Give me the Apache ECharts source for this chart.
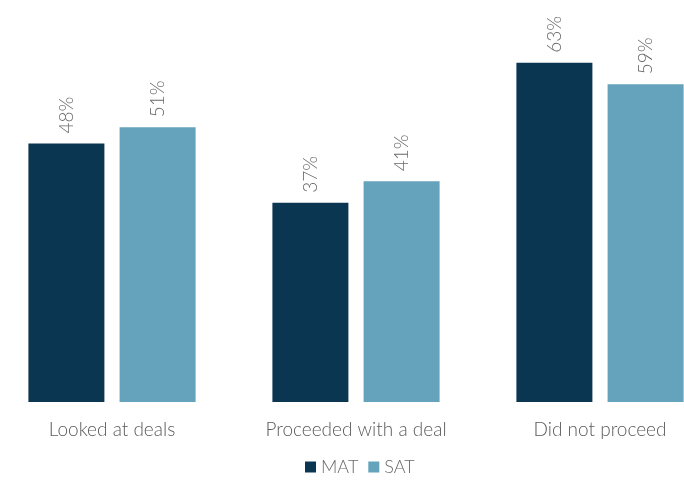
<!DOCTYPE html>
<html><head><meta charset="utf-8">
<script src="https://cdn.jsdelivr.net/npm/echarts@6/dist/echarts.min.js"></script>
<style>html,body{margin:0;padding:0;background:#fff}#c{width:684px;height:481px}</style>
</head><body><div id="c"></div>
<script>
const categories = ['Looked at deals', 'Proceeded with a deal', 'Did not proceed'];
const matValues = [48, 37, 63];
const satValues = [51, 41, 59];
const seriesNames = ['MAT', 'SAT'];

const chart = echarts.init(document.getElementById('c'));
const labelStyle = {
  show: true, position: 'top', rotate: 90, align: 'left', verticalAlign: 'middle',
  distance: 10, formatter: '{c}%', color: '#6a6a6a', fontSize: 19, fontFamily: 'Lato', fontWeight: 300
};
chart.setOption({
  animation: false,
  grid: { left: -10, width: 732, top: 25, bottom: 79, containLabel: false, outerBoundsMode: 'none' },
  legend: {
    data: seriesNames, bottom: 0, left: 300, icon: 'rect', itemWidth: 11, itemHeight: 11, itemGap: 10,
    textStyle: { color: '#6a6a6a', fontSize: 18, fontFamily: 'Lato', fontWeight: 300 }
  },
  xAxis: {
    type: 'category', data: categories,
    axisLine: { show: false }, axisTick: { show: false },
    axisLabel: { interval: 0, color: '#5a5a5a', fontSize: 19, fontFamily: 'Lato', fontWeight: 300, margin: 18 }
  },
  yAxis: { type: 'value', min: 0, max: 70, show: false, splitLine: { show: false } },
  series: [
    { name: 'MAT', type: 'bar', data: matValues, barWidth: 76, barGap: '20%', itemStyle: { color: '#0b3652' }, label: labelStyle },
    { name: 'SAT', type: 'bar', data: satValues, barWidth: 76, itemStyle: { color: '#64a3bb' }, label: labelStyle }
  ]
});
</script></body></html>
